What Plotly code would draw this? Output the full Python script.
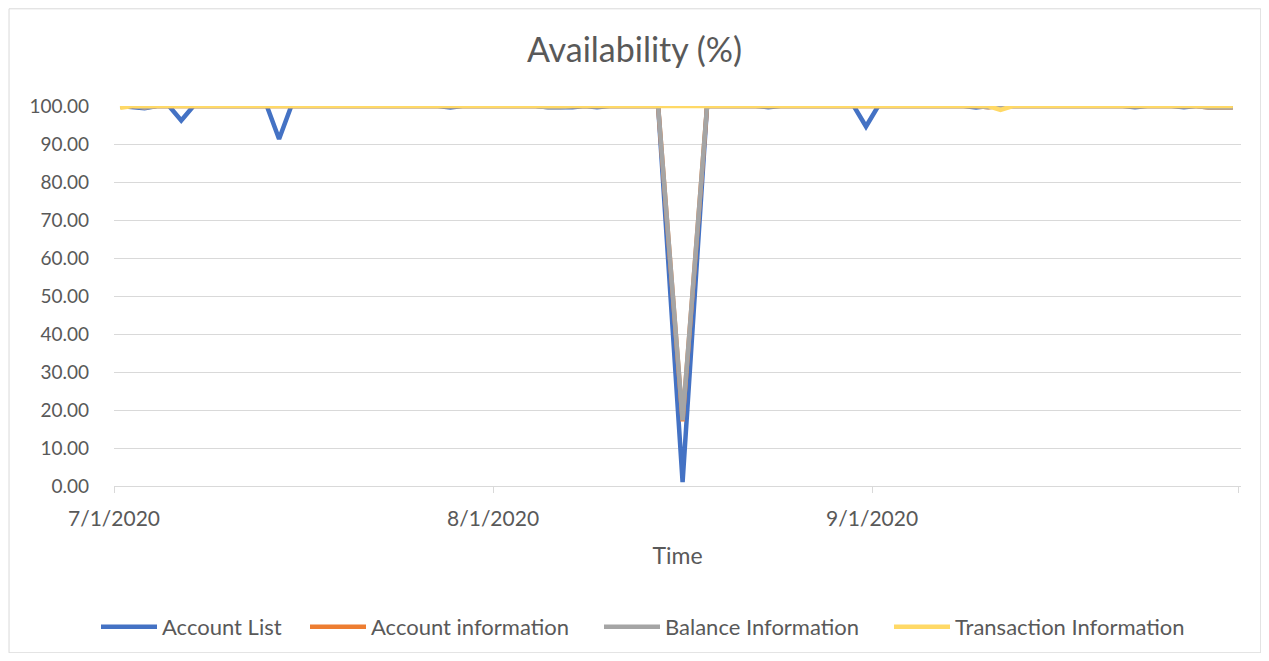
import plotly.graph_objects as go
import pandas as pd

# Daily observations 7/1/2020 .. 9/30/2020 (plotted at mid-day)
dates = pd.date_range("2020-07-01 12:00", "2020-09-30 12:00", freq="D")

account_list = [
    100, 99.8, 99.4, 100, 100, 96.2, 100, 100, 100, 100,
    100, 100, 100, 91.3, 100, 100, 100, 100, 100, 100,
    100, 100, 100, 100, 100, 100, 100, 99.6, 100, 100,
    100, 100, 100, 100, 100, 99.7, 99.6, 99.7, 100, 99.7,
    100, 100, 100, 100, 100, 50.5, 1.0, 50.5, 100, 100,
    100, 100, 100, 99.7, 100, 100, 100, 100, 100, 100,
    100, 94.6, 100, 100, 100, 100, 100, 100, 100, 100,
    99.6, 100, 100, 100, 100, 100, 100, 100, 100, 100,
    100, 100, 100, 99.7, 100, 100, 100, 99.7, 100, 100,
    100, 100,
]

account_information = [
    100, 100, 99.7, 100, 100, 100, 100, 100, 100, 100,
    100, 100, 100, 100, 100, 100, 100, 100, 100, 100,
    100, 100, 100, 100, 100, 100, 99.8, 100, 100, 100,
    100, 100, 100, 100, 100, 99.8, 99.8, 100, 100, 100,
    100, 100, 100, 100, 100, 58.4, 17.0, 58.4, 100, 100,
    100, 100, 100, 99.8, 100, 100, 100, 100, 100, 100,
    100, 100, 100, 100, 100, 100, 100, 100, 100, 100,
    100, 99.7, 100, 100, 100, 100, 100, 100, 100, 100,
    100, 100, 100, 100, 99.8, 100, 100, 100, 100, 99.6,
    99.5, 99.6,
]

balance_information = [
    100, 100, 99.6, 100, 100, 100, 100, 100, 100, 100,
    100, 100, 100, 100, 100, 100, 100, 100, 100, 100,
    100, 100, 100, 100, 100, 100, 99.8, 100, 100, 100,
    100, 100, 100, 100, 100, 99.7, 99.7, 100, 100, 100,
    100, 100, 100, 100, 100, 58.6, 17.3, 58.6, 100, 100,
    100, 100, 100, 99.8, 100, 100, 100, 100, 100, 100,
    100, 100, 100, 100, 100, 100, 100, 100, 100, 100,
    100, 99.7, 100, 100, 100, 100, 100, 100, 100, 100,
    100, 100, 100, 100, 99.8, 100, 100, 100, 100, 99.6,
    99.5, 99.6,
]

transaction_information = [
    99.5, 100, 100, 100, 100, 100, 100, 100, 100, 100,
    100, 100, 100, 100, 100, 100, 100, 100, 100, 100,
    100, 100, 100, 100, 100, 100, 100, 100, 100, 100,
    100, 100, 100, 100, 100, 100, 100, 100, 100, 100,
    100, 100, 100, 100, 100, 100, 100, 100, 100, 100,
    100, 100, 100, 100, 100, 100, 100, 100, 100, 100,
    100, 100, 100, 100, 100, 100, 100, 100, 100, 100,
    100, 100, 99.0, 100, 100, 100, 100, 100, 100, 100,
    100, 100, 100, 100, 100, 100, 100, 100, 100, 100,
    100, 100,
]

series_names = ["Account List", "Account information", "Balance Information", "Transaction Information"]
series_values = [account_list, account_information, balance_information, transaction_information]
series_colors = ["#4472C4", "#ED7D31", "#A5A5A5", "#FFD966"]

x_tick_positions = ["2020-07-01", "2020-08-01", "2020-09-01", "2020-10-01"]
x_tick_labels = ["7/1/2020", "8/1/2020", "9/1/2020", ""]
y_tick_values = [0, 10, 20, 30, 40, 50, 60, 70, 80, 90, 100]

FONT = "Lato, 'Open Sans', sans-serif"
TXT = "#595959"

# page body has an 8px margin; work in page pixels and convert
OFF = 8
W, H = 1269 - 2 * OFF, 661 - 2 * OFF
PL, PR, PT, PB = 113.5, 1240.7, 105.7, 485.7   # plot area in page pixels
L, R, T, B = PL - OFF, (OFF + W) - PR, PT - OFF, (OFF + H) - PB
pw, ph = PR - PL, PB - PT

def px_x(p):
    return (p - PL) / pw

def px_y(q):
    return (PB - q) / ph

def cx(p):
    return (p - OFF) / W

def cy(q):
    return 1 - (q - OFF) / H

legend_ids = ["legend", "legend2", "legend3", "legend4"]
legend_left_px = [96, 305, 599, 889]

fig = go.Figure()
for name, vals, col, lid in zip(series_names, series_values, series_colors, legend_ids):
    fig.add_trace(go.Scatter(
        x=dates, y=vals, name=name, mode="lines", legend=lid,
        line=dict(color=col, width=4.5, shape="linear"),
    ))

legend_common = dict(orientation="h", xref="container", yref="container",
                     xanchor="left", yanchor="middle", y=cy(627),
                     font=dict(size=22, color=TXT, family=FONT), itemwidth=56,
                     bgcolor="rgba(0,0,0,0)", borderwidth=0)

fig.update_layout(
    width=W, height=H, autosize=False,
    margin=dict(l=L, r=R, t=T, b=B, pad=0, autoexpand=False),
    paper_bgcolor="white", plot_bgcolor="white",
    font=dict(family=FONT, color=TXT, size=21),
    title=dict(text="Availability (%)", x=0.5, xanchor="center",
               y=cy(50), yanchor="middle",
               font=dict(size=34, color=TXT, family=FONT)),
    showlegend=True,
    legend=dict(x=cx(legend_left_px[0]), **legend_common),
    legend2=dict(x=cx(legend_left_px[1]), **legend_common),
    legend3=dict(x=cx(legend_left_px[2]), **legend_common),
    legend4=dict(x=cx(legend_left_px[3]), **legend_common),
    shapes=[dict(type="rect", xref="paper", yref="paper",
                 x0=px_x(8.5), x1=px_x(1260.5), y0=px_y(652.5), y1=px_y(8.5),
                 line=dict(color="#D9D9D9", width=1), fillcolor="rgba(0,0,0,0)", layer="below")],
)

fig.update_xaxes(
    type="date",
    range=["2020-07-01 00:00", "2020-10-01 04:00"],
    tickmode="array", tickvals=x_tick_positions, ticktext=x_tick_labels,
    showgrid=False, zeroline=False,
    showline=True, linecolor="#D9D9D9", linewidth=1,
    ticks="outside", ticklen=6, tickcolor="#D9D9D9", tickwidth=1,
    ticklabelstandoff=8,
    tickfont=dict(size=21, color=TXT, family=FONT),
    title=dict(text="Time", font=dict(size=23, color=TXT, family=FONT), standoff=18),
)

fig.update_yaxes(
    range=[0, 100],
    tickmode="array", tickvals=y_tick_values,
    tickformat=".2f",
    showgrid=True, gridcolor="#D9D9D9", gridwidth=1,
    zeroline=False, showline=False, ticks="",
    ticklabelstandoff=24,
    tickfont=dict(size=19, color=TXT, family=FONT),
)

fig.write_html("out.html")
